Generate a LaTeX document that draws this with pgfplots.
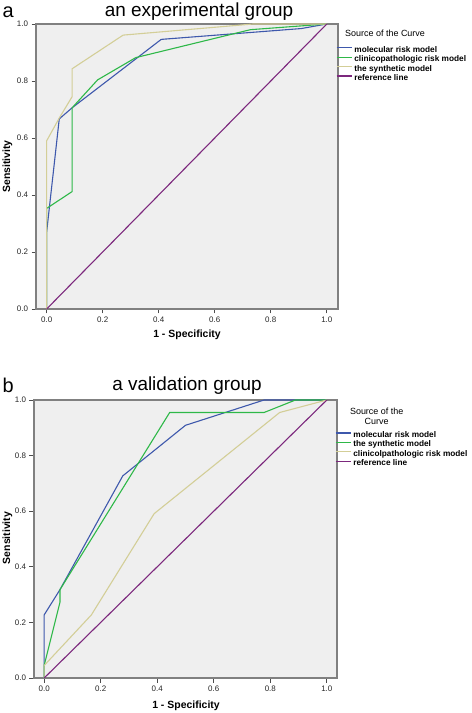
\documentclass[border=0pt]{standalone}
\usepackage{fontspec}
\setmainfont{Liberation Sans}
\usepackage{pgfplots}
\pgfplotsset{compat=1.18}
\definecolor{cblue}{HTML}{3E58AC}
\definecolor{cgreen}{HTML}{2EB848}
\definecolor{ctan}{HTML}{D3CE97}
\definecolor{cpurple}{HTML}{7C287D}
\definecolor{cbg}{HTML}{EFEFEF}
\definecolor{cframe}{HTML}{808080}
\pgfplotsset{
  rocstyle/.style={
    scale only axis,
    anchor=south west,
    ymin=0, ymax=1,
    axis background/.style={fill=cbg},
    axis line style={draw=cframe, line width=1.6bp},
    tick align=outside,
    xtick pos=bottom, ytick pos=left,
    major tick length=4.5bp,
    tick style={draw=black!70, line width=0.7bp},
    xtick={0,0.2,0.4,0.6,0.8,1.0},
    ytick={0,0.2,0.4,0.6,0.8,1.0},
    ticklabel style={font=\fontsize{8}{9}\selectfont, text=black!85},
    xticklabel style={yshift=0.5bp},
    /pgf/number format/.cd, fixed, fixed zerofill, precision=1, assume math mode=true,
    /pgfplots/.cd,
    legend cell align=left,
    legend image code/.code={\draw[line width=1.2bp,#1] (0bp,2.5bp) -- (15bp,2.5bp);},
    legend style={draw=none, fill=none, inner sep=0pt, row sep=0pt,
      font=\fontsize{8.3}{9}\selectfont\bfseries,
      nodes={inner xsep=2.2bp, inner ysep=0.7bp, text height=6bp, text depth=2bp, anchor=west}},
    every axis plot/.append style={line width=1.1bp},
  }
}
\begin{document}
\begin{tikzpicture}
\path[use as bounding box] (0bp,0bp) rectangle (472bp,713bp);
% Panel a
\begin{axis}[rocstyle, at={(36bp,404bp)}, width=302bp, height=285bp,
  xmin=-0.038, xmax=1.04,
  legend style={at={(axis description cs:1,0.925)}, anchor=north west, xshift=-2.2bp}]
\addplot[draw=cblue] coordinates {(0,0) (0,0.27) (0.045,0.667) (0.091,0.706) (0.409,0.946) (0.909,0.984) (1,1)};
\addlegendentry{molecular risk model}
\addplot[draw=cgreen] coordinates {(0,0) (0,0.353) (0.091,0.412) (0.091,0.706) (0.182,0.804) (0.318,0.882) (0.727,0.98) (1,1)};
\addlegendentry{clinicopathologic risk model}
\addplot[draw=ctan] coordinates {(0,0) (0,0.59) (0.045,0.67) (0.091,0.745) (0.091,0.843) (0.273,0.961) (0.737,1) (1,1)};
\addlegendentry{the synthetic model}
\addplot[draw=cpurple] coordinates {(0,0) (1,1)};
\addlegendentry{reference line}
\end{axis}
% Panel b
\begin{axis}[rocstyle, at={(34bp,35bp)}, width=303bp, height=278bp,
  xmin=-0.036, xmax=1.036,
  legend style={at={(axis description cs:1,0.89)}, anchor=north west, xshift=-2.2bp}]
\addplot[draw=cblue] coordinates {(0,0) (0,0.227) (0.056,0.318) (0.278,0.727) (0.5,0.909) (0.778,1) (1,1)};
\addlegendentry{molecular risk model}
\addplot[draw=cgreen] coordinates {(0,0) (0,0.045) (0.056,0.273) (0.056,0.318) (0.167,0.5) (0.444,0.955) (0.778,0.955) (0.889,1) (1,1)};
\addlegendentry{the synthetic model}
\addplot[draw=ctan] coordinates {(0,0) (0,0.045) (0.167,0.227) (0.389,0.591) (0.833,0.955) (1,1)};
\addlegendentry{clinicolpathologic risk model}
\addplot[draw=cpurple] coordinates {(0,0) (1,1)};
\addlegendentry{reference line}
\end{axis}
% texts
\node[anchor=base west, font=\fontsize{20}{24}\selectfont, inner sep=0pt] at (2.5bp,695bp) {a};
\node[anchor=base, font=\fontsize{19}{23}\selectfont, inner sep=0pt] at (199bp,696.5bp) {an experimental group};
\node[anchor=base west, font=\fontsize{20}{24}\selectfont, inner sep=0pt] at (2.5bp,320bp) {b};
\node[anchor=base, font=\fontsize{19}{23}\selectfont, inner sep=0pt] at (187bp,322bp) {a validation group};
\node[anchor=west, font=\fontsize{9}{10}\selectfont, inner sep=0pt] at (345bp,680bp) {Source of the Curve};
\node[align=center, font=\fontsize{9}{10}\selectfont, inner sep=0pt] at (376.7bp,296.3bp) {Source of the\\Curve};
\node[rotate=90, font=\fontsize{10.5}{12}\selectfont\bfseries, inner sep=0pt] at (7.5bp,546.5bp) {Sensitivity};
\node[rotate=90, font=\fontsize{10.5}{12}\selectfont\bfseries, inner sep=0pt] at (7.5bp,175bp) {Sensitivity};
\node[font=\fontsize{10.5}{12}\selectfont\bfseries, inner sep=0pt] at (187bp,378bp) {1 - Specificity};
\node[font=\fontsize{10.5}{12}\selectfont\bfseries, inner sep=0pt] at (186bp,7bp) {1 - Specificity};
\end{tikzpicture}
\end{document}
